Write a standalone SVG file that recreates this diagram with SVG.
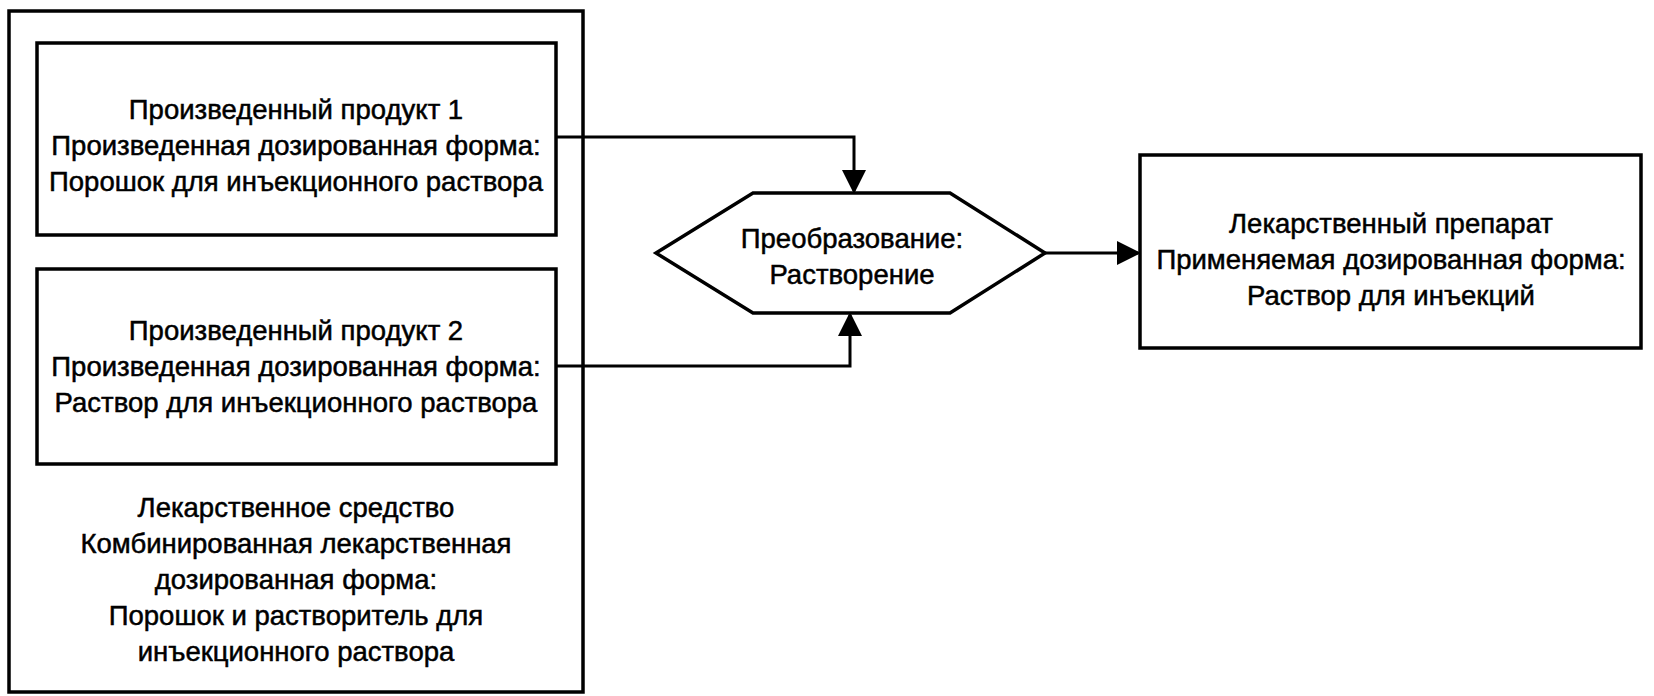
<svg xmlns="http://www.w3.org/2000/svg" width="1654" height="696" viewBox="0 0 1654 696">
<defs>
<style>
.box{fill:#fff;stroke:#000;stroke-width:3.5}
.t{font-family:"Liberation Sans","DejaVu Sans",sans-serif;font-size:27.5px;fill:#000;stroke:#000;stroke-width:0.5;text-anchor:middle}
.c{fill:none;stroke:#000;stroke-width:3}
</style>
<marker id="ah" markerWidth="8" markerHeight="8" refX="7" refY="4" orient="auto" markerUnits="strokeWidth">
<path d="M0,0 L8,4 L0,8 Z" fill="#000"/>
</marker>
</defs>
<rect width="1654" height="696" fill="#fff"/>
<g id="outer">
<rect class="box" x="9" y="11" width="574" height="681"/>
<text class="t" x="296" y="517">Лекарственное средство</text>
<text class="t" x="296" y="553">Комбинированная лекарственная</text>
<text class="t" x="296" y="589">дозированная форма:</text>
<text class="t" x="296" y="625">Порошок и растворитель для</text>
<text class="t" x="296" y="661">инъекционного раствора</text>
</g>
<g id="product1">
<rect class="box" x="37" y="43" width="519" height="192"/>
<text class="t" x="296" y="119">Произведенный продукт 1</text>
<text class="t" x="296" y="155">Произведенная дозированная форма:</text>
<text class="t" x="296" y="191">Порошок для инъекционного раствора</text>
</g>
<g id="product2">
<rect class="box" x="37" y="269" width="519" height="195"/>
<text class="t" x="296" y="340">Произведенный продукт 2</text>
<text class="t" x="296" y="376">Произведенная дозированная форма:</text>
<text class="t" x="296" y="412">Раствор для инъекционного раствора</text>
</g>
<g id="transform">
<polygon class="box" points="656,253 753,193 950,193 1045,253 950,313 753,313"/>
<text class="t" x="852" y="248">Преобразование:</text>
<text class="t" x="852" y="284">Растворение</text>
</g>
<g id="result">
<rect class="box" x="1140" y="155" width="501" height="193"/>
<text class="t" x="1391" y="233">Лекарственный препарат</text>
<text class="t" x="1391" y="269">Применяемая дозированная форма:</text>
<text class="t" x="1391" y="305">Раствор для инъекций</text>
</g>
<g id="connectors">
<polyline class="c" points="556,137 854,137 854,191" marker-end="url(#ah)"/>
<polyline class="c" points="556,366 850,366 850,315" marker-end="url(#ah)"/>
<line class="c" x1="1045" y1="253" x2="1138" y2="253" marker-end="url(#ah)"/>
</g>
</svg>
